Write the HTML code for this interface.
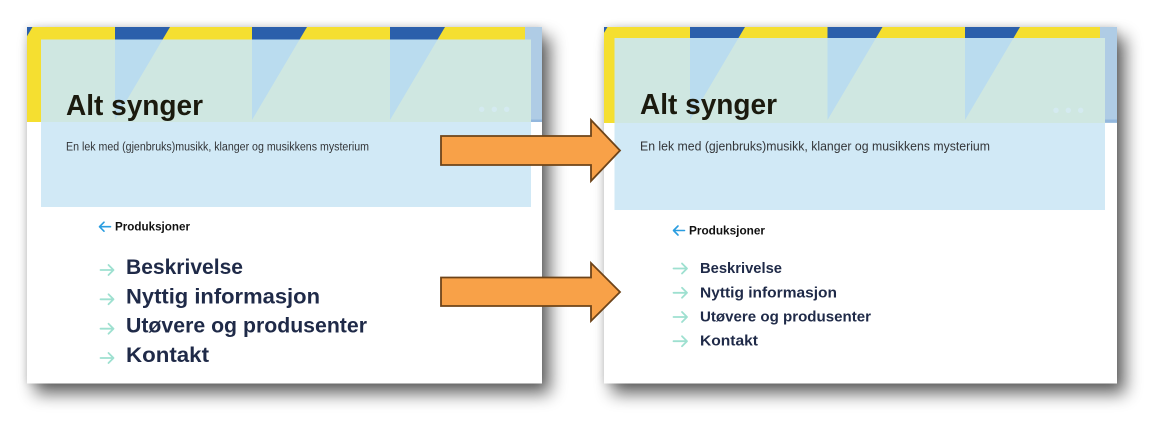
<!DOCTYPE html>
<html>
<head>
<meta charset="utf-8">
<style>
  html,body{margin:0;padding:0;background:#ffffff;}
  body{width:1167px;height:442px;overflow:hidden;}
  svg{display:block;}
  text{font-family:"Liberation Sans", sans-serif;}
</style>
</head>
<body>
<svg width="1167" height="442" viewBox="0 0 1167 442" xmlns="http://www.w3.org/2000/svg">
  <defs>
    <filter id="sh" x="-10%" y="-10%" width="125%" height="130%">
      <feGaussianBlur in="SourceAlpha" stdDeviation="8.5" result="b1"/>
      <feOffset in="b1" dx="8" dy="10" result="o1"/>
      <feComponentTransfer in="o1" result="s1"><feFuncA type="linear" slope="0.62"/></feComponentTransfer>
      <feGaussianBlur in="SourceAlpha" stdDeviation="4" result="b2"/>
      <feComponentTransfer in="b2" result="s2"><feFuncA type="linear" slope="0.15"/></feComponentTransfer>
      <feMerge><feMergeNode in="s2"/><feMergeNode in="s1"/><feMergeNode in="SourceGraphic"/></feMerge>
    </filter>
    <clipPath id="bannerL"><rect x="27" y="27" width="515" height="95"/></clipPath>
    <clipPath id="ovL"><rect x="41" y="39.5" width="490" height="82.5"/></clipPath>
    <clipPath id="bannerR"><rect x="604" y="27" width="513" height="96"/></clipPath>
    <clipPath id="ovR"><rect x="614.5" y="38" width="490.5" height="85"/></clipPath>
  </defs>

  <!-- ================= LEFT PANEL ================= -->
  <rect x="27" y="27" width="515" height="356.5" fill="#ffffff" filter="url(#sh)"/>
  <g clip-path="url(#bannerL)">
    <rect x="27" y="27" width="515" height="95" fill="#f5df30"/>
    <polygon points="-22.5,27 32.5,27 -22.5,120" fill="#2b5fab"/>
    <polygon points="115,27 170,27 115,120" fill="#2b5fab"/>
    <polygon points="252,27 307,27 252,120" fill="#2b5fab"/>
    <polygon points="390,27 445,27 390,120" fill="#2b5fab"/>
    <rect x="525" y="27" width="17" height="95" fill="#afcce5"/>
    <rect x="531" y="119.5" width="11" height="2.5" fill="#93b7dd"/>
  </g>
  <!-- overlay -->
  <rect x="41" y="39.5" width="490" height="82.5" fill="#cfe7e1"/>
  <g clip-path="url(#ovL)" fill="#badcef">
    <polygon points="-22.5,27 32.5,27 -22.5,120"/>
    <polygon points="115,27 170,27 115,120"/>
    <polygon points="252,27 307,27 252,120"/>
    <polygon points="390,27 445,27 390,120"/>
  </g>
  <rect x="41" y="122" width="490" height="85" fill="#d1e9f6"/>
  <g fill="#d4eaf0">
    <circle cx="481.7" cy="109.3" r="2.7"/>
    <circle cx="494.3" cy="109.3" r="2.7"/>
    <circle cx="506.7" cy="109.3" r="2.7"/>
  </g>
  <text x="66" y="115" font-size="29" font-weight="bold" fill="#1b1a0e" textLength="137" lengthAdjust="spacingAndGlyphs">Alt synger</text>
  <text x="66" y="150.5" font-size="11.5" fill="#333538" textLength="303" lengthAdjust="spacingAndGlyphs">En lek med (gjenbruks)musikk, klanger og musikkens mysterium</text>

  <!-- back link -->
  <g stroke="#2a9de0" stroke-width="1.6" fill="none" stroke-linecap="round" stroke-linejoin="round">
    <path d="M99.5 226.7 H110.5 M104 222.2 L99.5 226.7 L104 231.2"/>
  </g>
  <text x="115" y="230.7" font-size="11.7" font-weight="bold" fill="#111111" textLength="75" lengthAdjust="spacingAndGlyphs">Produksjoner</text>

  <!-- menu left -->
  <g stroke="#9ee0d0" stroke-width="1.8" fill="none" stroke-linecap="round" stroke-linejoin="round">
    <path d="M100.5 270 H113.5 M108.5 265 L113.5 270 L108.5 275"/>
    <path d="M100.5 299.3 H113.5 M108.5 294.3 L113.5 299.3 L108.5 304.3"/>
    <path d="M100.5 328.7 H113.5 M108.5 323.7 L113.5 328.7 L108.5 333.7"/>
    <path d="M100.5 358 H113.5 M108.5 353 L113.5 358 L108.5 363"/>
  </g>
  <g font-size="21" font-weight="bold" fill="#1f2a48">
    <text x="126" y="274" textLength="117" lengthAdjust="spacingAndGlyphs">Beskrivelse</text>
    <text x="126" y="303.3" textLength="194" lengthAdjust="spacingAndGlyphs">Nyttig informasjon</text>
    <text x="126" y="332.7" textLength="241" lengthAdjust="spacingAndGlyphs">Utøvere og produsenter</text>
    <text x="126" y="362" textLength="83" lengthAdjust="spacingAndGlyphs">Kontakt</text>
  </g>

  <!-- ================= RIGHT PANEL ================= -->
  <rect x="604" y="27" width="513" height="356.5" fill="#ffffff" filter="url(#sh)"/>
  <g clip-path="url(#bannerR)">
    <rect x="604" y="27" width="513" height="96" fill="#f5df30"/>
    <polygon points="552.5,27 607.5,27 552.5,120" fill="#2b5fab"/>
    <polygon points="690,27 745,27 690,120" fill="#2b5fab"/>
    <polygon points="827.5,27 882.5,27 827.5,120" fill="#2b5fab"/>
    <polygon points="965,27 1020,27 965,120" fill="#2b5fab"/>
    <rect x="1100" y="27" width="17" height="96" fill="#afcce5"/>
    <rect x="1105" y="119.5" width="12" height="3" fill="#93b7dd"/>
  </g>
  <rect x="614.5" y="38" width="490.5" height="85" fill="#cfe7e1"/>
  <g clip-path="url(#ovR)" fill="#badcef">
    <polygon points="552.5,27 607.5,27 552.5,120"/>
    <polygon points="690,27 745,27 690,120"/>
    <polygon points="827.5,27 882.5,27 827.5,120"/>
    <polygon points="965,27 1020,27 965,120"/>
  </g>
  <rect x="614.5" y="123" width="490.5" height="87" fill="#d1e9f6"/>
  <g fill="#d4eaf0">
    <circle cx="1056" cy="110.3" r="2.7"/>
    <circle cx="1068.3" cy="110.3" r="2.7"/>
    <circle cx="1080.7" cy="110.3" r="2.7"/>
  </g>
  <text x="640" y="114" font-size="29" font-weight="bold" fill="#1b1a0e" textLength="137" lengthAdjust="spacingAndGlyphs">Alt synger</text>
  <text x="640" y="150.5" font-size="13" fill="#333538" textLength="350" lengthAdjust="spacingAndGlyphs">En lek med (gjenbruks)musikk, klanger og musikkens mysterium</text>

  <g stroke="#2a9de0" stroke-width="1.6" fill="none" stroke-linecap="round" stroke-linejoin="round">
    <path d="M673.5 230.5 H684.5 M678 226 L673.5 230.5 L678 235"/>
  </g>
  <text x="689" y="234.7" font-size="11.7" font-weight="bold" fill="#111111" textLength="76" lengthAdjust="spacingAndGlyphs">Produksjoner</text>

  <g stroke="#9ee0d0" stroke-width="1.8" fill="none" stroke-linecap="round" stroke-linejoin="round">
    <path d="M673.5 268.5 H687 M682 263.5 L687 268.5 L682 273.5"/>
    <path d="M673.5 292.8 H687 M682 287.8 L687 292.8 L682 297.8"/>
    <path d="M673.5 317 H687 M682 312 L687 317 L682 322"/>
    <path d="M673.5 341.2 H687 M682 336.2 L687 341.2 L682 346.2"/>
  </g>
  <g font-size="15" font-weight="bold" fill="#1f2a48">
    <text x="700" y="273" textLength="82" lengthAdjust="spacingAndGlyphs">Beskrivelse</text>
    <text x="700" y="297.3" textLength="137" lengthAdjust="spacingAndGlyphs">Nyttig informasjon</text>
    <text x="700" y="321.5" textLength="171" lengthAdjust="spacingAndGlyphs">Utøvere og produsenter</text>
    <text x="700" y="345.7" textLength="58" lengthAdjust="spacingAndGlyphs">Kontakt</text>
  </g>

  <!-- ================= ORANGE ARROWS ================= -->
  <g fill="#f8a148" stroke="#6e4419" stroke-width="1.8" stroke-linejoin="miter">
    <polygon points="441,136 591,136 591,120 620,150.5 591,181 591,165 441,165"/>
    <polygon points="441,277.5 591,277.5 591,263 620,292 591,321 591,306 441,306"/>
  </g>
</svg>
</body>
</html>
